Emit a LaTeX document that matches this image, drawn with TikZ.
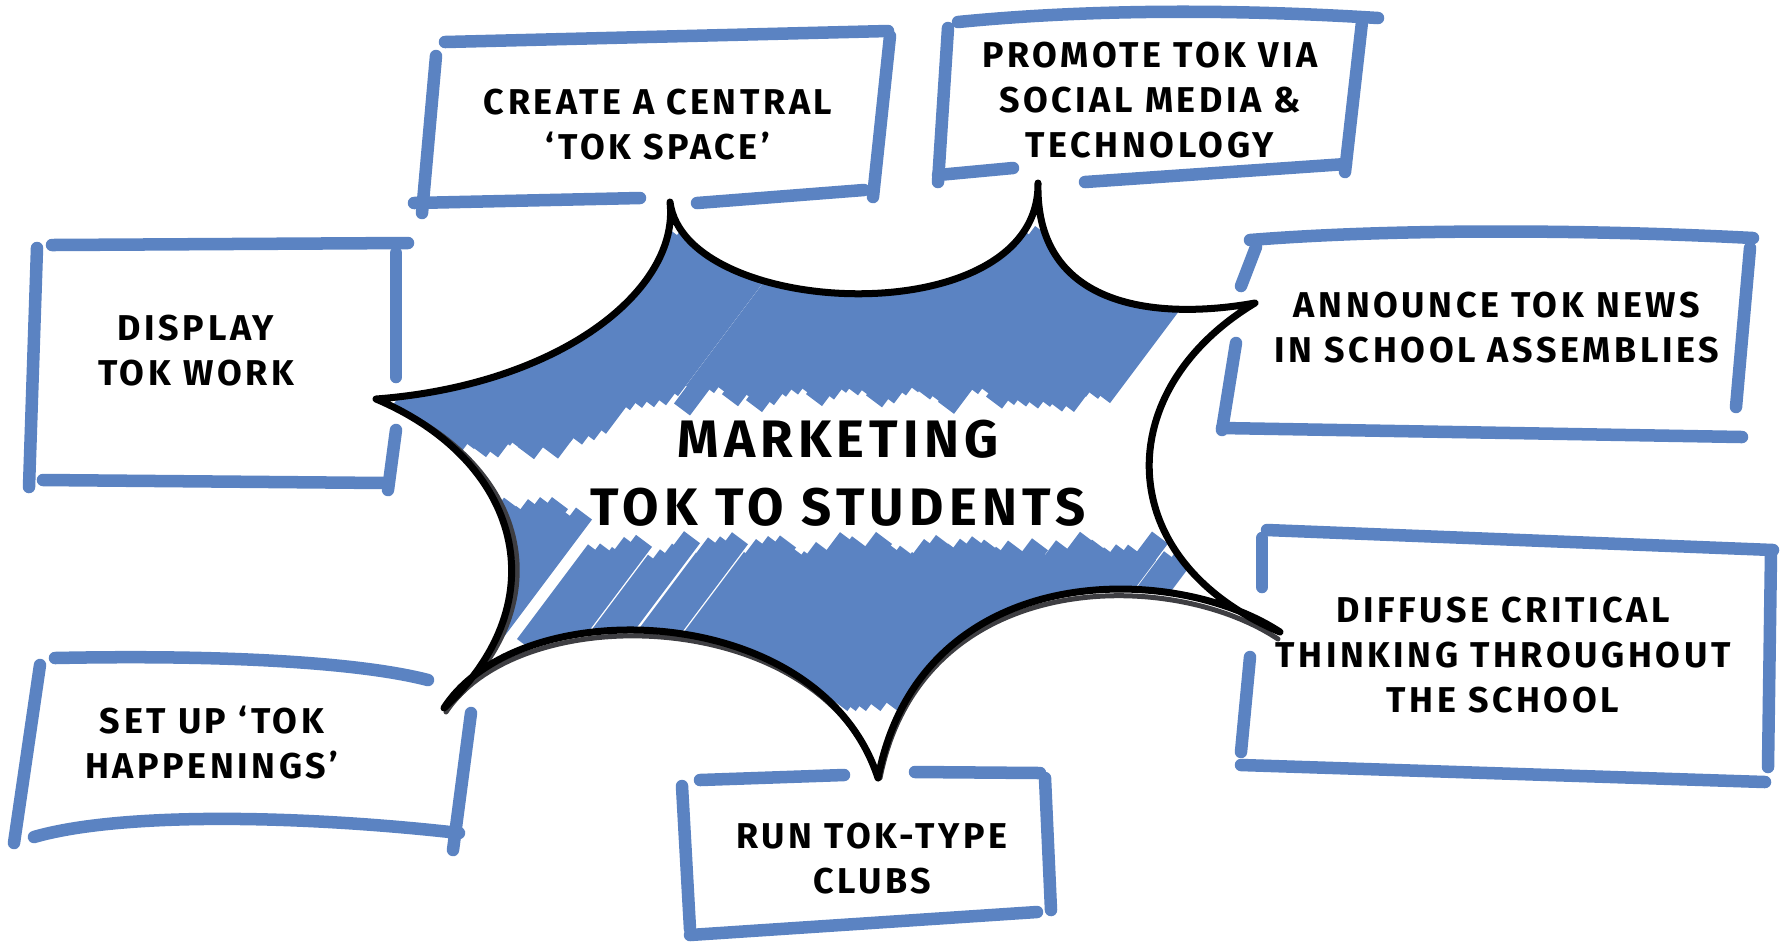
\documentclass[tikz,border=0pt]{standalone}
\usepackage{fontspec}
\setmainfont{Fira Sans}
\usetikzlibrary{calc}

\definecolor{sketchblue}{RGB}{91,131,194}
\definecolor{inkgrey}{RGB}{62,62,66}

% outline of the burst, tips t1..t7 clockwise from the left
\newcommand{\burstpath}{(t1) .. controls (560,385) and (680,290) .. (t2)
    .. controls (685,320) and (1040,335) .. (t3)
    .. controls (1035,310) and (1160,320) .. (t4)
    .. controls (1110,390) and (1110,560) .. (t5)
    .. controls (1170,560) and (920,560) .. (t6)
    .. controls (820,600) and (520,590) .. (t7)
    .. controls (560,600) and (520,460) .. (t1) -- cycle}

\begin{document}
\begin{tikzpicture}[x=0.01cm, y=-0.01cm,
    stroke/.style={draw=sketchblue, line width=0.125cm, line cap=round},
    ink/.style={draw=black, line width=0.07cm, line join=round, line cap=round},
    shade/.style={draw=inkgrey, line width=0.05cm, line cap=round},
    scribble/.style={draw=sketchblue, line width=0.2cm},
    label/.style={font=\bfseries\fontsize{10.2pt}{12.8pt}\selectfont\addfontfeature{LetterSpace=10}, align=center, inner sep=0pt},
    title/.style={font=\bfseries\fontsize{15pt}{19.3pt}\selectfont\addfontfeature{LetterSpace=10}, align=center, inner sep=0pt}]

    \useasboundingbox (0,0) rectangle (1787,944);

    \coordinate (t1) at (376,399);
    \coordinate (t2) at (670,202);
    \coordinate (t3) at (1038,183);
    \coordinate (t4) at (1255,303);
    \coordinate (t5) at (1280,632);
    \coordinate (t6) at (878,778);
    \coordinate (t7) at (444,708);

    % scribbled fill
    \begin{scope}
        \clip \burstpath;
        \pgfmathsetseed{11}
        \foreach \x in {370,382,...,1110} {
            \pgfmathsetmacro{\yb}{(\x<560 ? 448 : (\x<600 ? 428 : 398)) + 26*rnd - 13}
            \draw[scribble] (\x,\yb) -- ({\x+0.75*(\yb-232)},232);
        }
        \foreach \x in {500,512,...,1190} {
            \pgfmathsetmacro{\yt}{(\x<590 ? 510 : 550) + 26*rnd - 13}
            \pgfmathsetmacro{\yl}{\x<650 ? 645 : 705}
            \draw[scribble] ({\x-0.75*(\yl-\yt)},\yl) -- (\x,\yt);
        }
    \end{scope}

    % burst outline
    \draw[shade] (1278,639) .. controls (1170,567) and (922,567) .. (880,778);
    \draw[shade] (878,778) .. controls (822,607) and (522,597) .. (446,712);
    \draw[shade] (448,706) .. controls (566,600) and (526,462) .. (382,402);
    \draw[ink] \burstpath;

    % boxes
    \draw[stroke] (445,42) -- (888,31);
    \draw[stroke] (890,36) -- (873,197);
    \draw[stroke] (436,56) -- (422,213);
    \draw[stroke] (414,203) -- (640,198);
    \draw[stroke] (697,203) -- (864,190);

    \draw[stroke] (958,22) .. controls (1100,8) and (1250,10) .. (1378,18);
    \draw[stroke] (1362,22) -- (1345,172);
    \draw[stroke] (948,28) -- (938,182);
    \draw[stroke] (938,175) -- (1013,168);
    \draw[stroke] (1085,182) -- (1346,164);

    \draw[stroke] (1250,240) .. controls (1400,228) and (1600,230) .. (1753,238);
    \draw[stroke] (1750,248) -- (1736,407);
    \draw[stroke] (1256,247) -- (1241,286);
    \draw[stroke] (1236,343) -- (1222,430);
    \draw[stroke] (1222,428) -- (1742,437);

    \draw[stroke] (1267,530) -- (1773,550);
    \draw[stroke] (1262,538) -- (1262,587);
    \draw[stroke] (1250,657) -- (1241,752);
    \draw[stroke] (1771,553) -- (1768,767);
    \draw[stroke] (1241,765) -- (1765,782);

    \draw[stroke] (700,780) -- (844,775);
    \draw[stroke] (915,772) -- (1040,773);
    \draw[stroke] (682,786) -- (690,929);
    \draw[stroke] (1045,778) -- (1051,910);
    \draw[stroke] (690,935) -- (1037,912);

    \draw[stroke] (55,658) .. controls (200,655) and (350,660) .. (428,680);
    \draw[stroke] (40,665) -- (14,843);
    \draw[stroke] (471,713) -- (453,850);
    \draw[stroke] (34,837) .. controls (120,812) and (300,815) .. (459,833);

    \draw[stroke] (52,245) -- (408,243);
    \draw[stroke] (37,248) -- (29,487);
    \draw[stroke] (396,253) -- (396,377);
    \draw[stroke] (396,430) -- (388,490);
    \draw[stroke] (43,480) -- (385,483);

    % texts
    \node[label] (space) at (658,125) {CREATE A CENTRAL\\‘TOK SPACE’};
    \node[label] (social) at (1150,100) {PROMOTE TOK VIA\\SOCIAL MEDIA \&\\TECHNOLOGY};
    \node[label] (news) at (1497,328) {ANNOUNCE TOK NEWS\\IN SCHOOL ASSEMBLIES};
    \node[label] (diffuse) at (1503,655) {DIFFUSE CRITICAL\\THINKING THROUGHOUT\\THE SCHOOL};
    \node[label] (clubs) at (872,859) {RUN TOK-TYPE\\CLUBS};
    \node[label] (happen) at (212,743) {SET UP ‘TOK\\HAPPENINGS’};
    \node[label] (display) at (196,351) {DISPLAY\\TOK WORK};
    \node[title] (centre) at (838,473) {MARKETING\\TOK TO STUDENTS};
\end{tikzpicture}
\end{document}
